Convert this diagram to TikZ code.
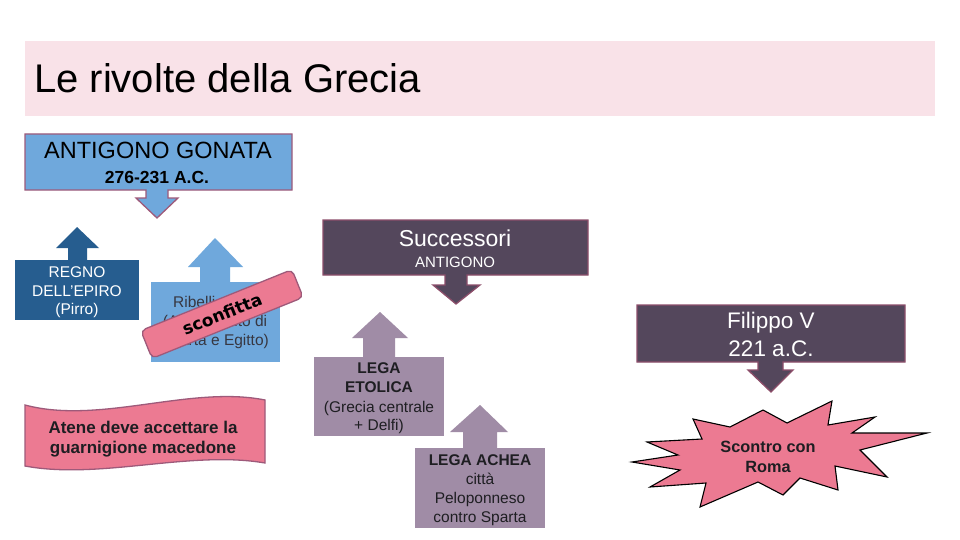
\documentclass[tikz,border=0pt]{standalone}
\usepackage{fontspec}
\setmainfont{Liberation Sans}
\newfontfamily\dvsfont{DejaVu Sans}
\newcommand\fsz[1]{\fontsize{#1}{#1}\selectfont}
\definecolor{titlebg}{RGB}{249,226,232}
\definecolor{lblue}{RGB}{111,168,220}
\definecolor{dblue}{RGB}{38,93,143}
\definecolor{mauve}{RGB}{158,90,122}
\definecolor{mauvedk}{RGB}{140,78,106}
\definecolor{dpurple}{RGB}{84,71,92}
\definecolor{lav}{RGB}{160,140,166}
\definecolor{pinkf}{RGB}{236,122,146}
\definecolor{darktxt}{RGB}{30,30,34}
\definecolor{graytxt}{RGB}{55,55,65}
\begin{document}
\begin{tikzpicture}[x=1pt,y=-1pt,
  txt/.style={inner sep=0pt, anchor=base},
  wtxt/.style={txt, text=white},
  dtxt/.style={txt, text=darktxt},
  callout/.style={line width=1.3pt, line join=miter},
]
\useasboundingbox (0,0) rectangle (960,540);
\fill[white] (0,0) rectangle (960,540);

% title band
\fill[titlebg] (25,41) rectangle (935,116);
\node[txt, anchor=base west, font=\fsz{40}] (title) at (34,92.5) {Le rivolte della Grecia};

% ANTIGONO GONATA callout
\draw[callout, fill=lblue, draw=mauve] (25,134) -- (292,134) -- (292,190) -- (168,190) -- (168,198) -- (178,198) -- (157,218) -- (136,198) -- (146,198) -- (146,190) -- (25,190) -- cycle;
\node[txt, font=\fsz{23.5}] (ag) at (158,159) {ANTIGONO GONATA};
\node[txt, font=\bfseries\fsz{17.5}] (agd) at (157,183) {276-231 A.C.};

% REGNO DELL'EPIRO
\fill[dblue] (68,261) -- (68,248) -- (56,248) -- (77,227) -- (99,248) -- (87,248) -- (87,261) -- cycle;
\fill[dblue] (15,260) rectangle (139,320);
\node[wtxt, font=\fsz{15.5}] (re1) at (77,277) {REGNO};
\node[wtxt, font=\fsz{15.5}] (re2) at (77,296) {DELL\symbol{39}EPIRO};
\node[wtxt, font=\fsz{15.5}] (re3) at (77,314) {(Pirro)};

% Ribelli
\fill[lblue] (200,283) -- (200,267) -- (188,267) -- (215,238) -- (243,267) -- (230,267) -- (230,283) -- cycle;
\fill[lblue] (151,282) rectangle (280,362);
\node[txt, text=graytxt, anchor=base west, font=\fsz{15.5}] (ri1) at (173,307) {Ribelli};
\node[txt, text=graytxt, font=\fsz{15.5}] (ri2) at (215,326) {(Atene, aiuto di};
\node[txt, text=graytxt, font=\fsz{15.5}] (ri3) at (215,345) {Sparta e Egitto)};

% sconfitta banner
\node[rotate=22, rounded corners=5pt, fill=pinkf, draw=mauve, line width=1.3pt,
      minimum width=163pt, minimum height=30pt, inner sep=0pt,
      font=\dvsfont\bfseries\fsz{17}] (sc) at (222,314) {sconfitta};

% Atene wave banner
\draw[fill=pinkf, draw=mauve, line width=1.3pt]
  (25,405) .. controls (100,425) and (190,385) .. (265,400)
  -- (265,463) .. controls (190,450) and (100,480) .. (25,466) -- cycle;
\node[dtxt, font=\bfseries\fsz{17}] (at1) at (143,433) {Atene deve accettare la};
\node[dtxt, font=\bfseries\fsz{17}] (at2) at (143,453) {guarnigione macedone};

% Successori callout
\draw[callout, fill=dpurple, draw=mauvedk] (323,220) -- (588,220) -- (588,275) -- (467,275) -- (467,285) -- (480,285) -- (456,304) -- (433,285) -- (445,285) -- (445,275) -- (323,275) -- cycle;
\node[wtxt, font=\fsz{23}] (su1) at (455,246) {Successori};
\node[wtxt, font=\fsz{15}] (su2) at (455,267) {ANTIGONO};

% LEGA ETOLICA
\fill[lav] (363,358) -- (363,338) -- (352,338) -- (380,312) -- (408,338) -- (395,338) -- (395,358) -- cycle;
\fill[lav] (314,357) rectangle (444,436);
\node[dtxt, font=\bfseries\fsz{15.5}] (le1) at (379,373) {LEGA};
\node[dtxt, font=\bfseries\fsz{15.5}] (le2) at (379,392) {ETOLICA};
\node[dtxt, font=\fsz{15.5}] (le3) at (379,412) {(Grecia centrale};
\node[dtxt, font=\fsz{15.5}] (le4) at (379,430) {+ Delfi)};

% LEGA ACHEA
\fill[lav] (463,449) -- (463,432) -- (450,432) -- (480,405) -- (508,432) -- (497,432) -- (497,449) -- cycle;
\fill[lav] (415,448) rectangle (545,528);
\node[dtxt, font=\bfseries\fsz{15.5}] (la1) at (480,465) {LEGA ACHEA};
\node[dtxt, font=\fsz{15.5}] (la2) at (480,484) {città};
\node[dtxt, font=\fsz{15.5}] (la3) at (480,503) {Peloponneso};
\node[dtxt, font=\fsz{15.5}] (la4) at (480,522) {contro Sparta};

% Filippo V callout
\draw[callout, fill=dpurple, draw=mauvedk] (637,305) -- (905,305) -- (905,362) -- (783,362) -- (783,370) -- (793,370) -- (771,392) -- (748,370) -- (758,370) -- (758,362) -- (637,362) -- cycle;
\node[wtxt, font=\fsz{22.5}] (fi1) at (771,328) {Filippo V};
\node[wtxt, font=\fsz{22.5}] (fi2) at (771,356) {221 a.C.};

% Scontro con Roma star
\draw[fill=pinkf, draw=black, line width=1.1pt, line join=miter]
  (632,462) -- (678,455) -- (647,442) -- (702,439) -- (693,419) -- (730,427)
  -- (763,410) -- (787,423) -- (832,401) -- (828,425) -- (875,417) -- (852,433)
  -- (927,433) -- (860,450) -- (887,477) -- (835,466) -- (838,490) -- (800,478)
  -- (783,495) -- (758,482) -- (700,507) -- (706,483) -- (650,487) -- (680,470) -- cycle;
\node[dtxt, font=\bfseries\fsz{16.3}] (sr1) at (768,452) {Scontro con};
\node[dtxt, font=\bfseries\fsz{16.3}] (sr2) at (768,472) {Roma};
\end{tikzpicture}
\end{document}
